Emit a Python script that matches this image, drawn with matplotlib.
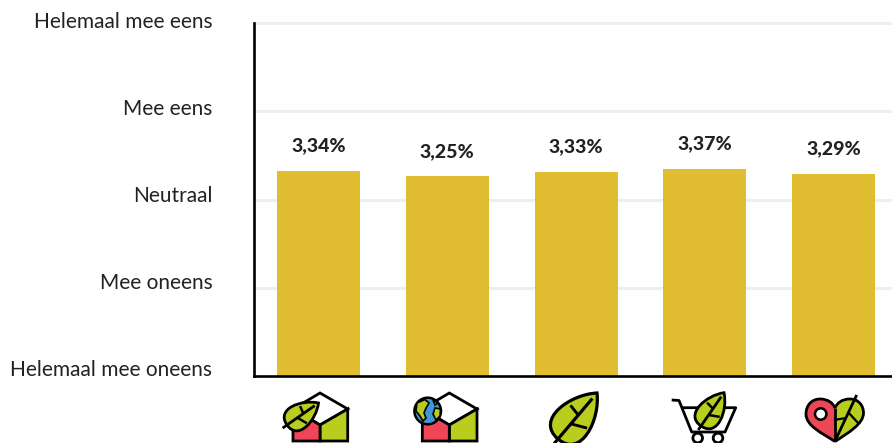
import numpy as np
import matplotlib
matplotlib.use('Agg')
import matplotlib.pyplot as plt
from matplotlib.patches import Polygon, Circle, PathPatch
from matplotlib.path import Path

# ── Data ───────────────────────────────────────────────────────────────
values = [3.34, 3.25, 3.33, 3.37, 3.29]
scale_labels = ['Helemaal mee eens', 'Mee eens', 'Neutraal', 'Mee oneens', 'Helemaal mee oneens']
label_y_px = [22, 109, 196, 283, 370]

GOLD = '#e1bd31'
LEAF = '#b8cd1e'
RED = '#ee4656'
BLUE = '#3f97d5'
INK = '#000000'

W, H = 892, 443
plt.rcParams['font.family'] = ['Lato', 'DejaVu Sans']

fig = plt.figure(figsize=(W / 100, H / 100), dpi=100)

# ── Bars ───────────────────────────────────────────────────────────────
ax = fig.add_axes([254 / W, 1 - 376 / H, (W - 254) / W, 353 / H])
x = np.arange(len(values))
ymax = 353 / 61.4
ax.bar(x, values, width=0.645, color=GOLD, zorder=3)
ax.set_xlim(-0.501, 4.454)
ax.set_ylim(0, ymax)
ax.set_xticks([])
ax.set_yticks([])
for g in np.linspace(0, ymax, 5)[1:]:
    ax.axhline(g, color='#eeeeee', lw=2.2, zorder=1, clip_on=False)
for s in ['top', 'right']:
    ax.spines[s].set_visible(False)
for s in ['left', 'bottom']:
    ax.spines[s].set_linewidth(1.9)
    ax.spines[s].set_color(INK)
    ax.spines[s].set_zorder(5)

for xi, v in zip(x, values):
    ax.annotate(f'{v:.2f}%'.replace('.', ','), (xi, v), xytext=(0, 18),
                textcoords='offset points', ha='center', va='center',
                fontsize=14, fontweight='black', color='#222222')

# ── Overlay in pixel coordinates for axis labels and icons ─────────────
px = fig.add_axes([0, 0, 1, 1], zorder=10)
px.set_xlim(0, W)
px.set_ylim(H, 0)
px.axis('off')
px.patch.set_alpha(0)

for lab, y in zip(scale_labels, label_y_px):
    px.text(212.5, y, lab, ha='right', va='center', fontsize=15, color='#222222')

LW = 2.0


def poly(pts, fc='none', lw=LW, z=2):
    px.add_patch(Polygon(pts, closed=True, fc=fc, ec=INK, lw=lw, joinstyle='miter', zorder=z))


def line(pts, lw=LW, z=2):
    a = np.array(pts)
    px.plot(a[:, 0], a[:, 1], color=INK, lw=lw, zorder=z, solid_capstyle='butt')


def leaf(base, tip, wid, stem=0.0, lw=LW, z=4):
    # leaf outline from two cubic curves, fatter toward the base
    b, t = np.array(base, float), np.array(tip, float)
    d = t - b
    n = np.array([-d[1], d[0]]) / np.hypot(*d) * wid
    c1 = b + n * 1.25
    c2 = b + d * 0.7 + n * 0.8
    c3 = b + d * 0.7 - n * 0.8
    c4 = b - n * 1.25
    verts = [b, c1, c2, t, c3, c4, b]
    codes = [Path.MOVETO] + [Path.CURVE4] * 6
    px.add_patch(PathPatch(Path(verts, codes), fc=LEAF, ec=INK, lw=lw, zorder=z))
    line([b - d * stem, b + d * 0.88], lw=lw, z=z + 1)
    m1 = b + d * 0.33
    m2 = b + d * 0.52
    line([m1, m1 + n * 0.62 + d * 0.12], lw=lw * 0.9, z=z + 1)
    line([m2, m2 - n * 0.5 + d * 0.04], lw=lw * 0.9, z=z + 1)


def house(dx):
    roof = [(320, 393), (347.7, 409), (320, 425), (293, 409)]
    poly([(p[0] + dx, p[1]) for p in roof], fc='white')
    poly([(320 + dx, 425), (347.7 + dx, 409), (347.7 + dx, 441), (320 + dx, 441)], fc=LEAF)
    poly([(293 + dx, 441), (293 + dx, 418), (310 + dx, 419), (320 + dx, 425), (320 + dx, 441)], fc=RED)


# house with leaf
house(0)
leaf((287, 425), (318.5, 403), 16, stem=0.14)

# house with globe
house(129.3)
px.add_patch(Circle((427.7, 411), 13.3, fc=BLUE, ec=INK, lw=1.8, zorder=4))
poly([(417, 403), (425, 399.5), (429, 403), (426, 408), (424, 413), (426, 418),
      (423, 421), (420, 416), (416, 411)], fc=LEAF, lw=1.2, z=5)
poly([(433, 400), (438, 403), (435, 405)], fc=LEAF, lw=1.2, z=5)
poly([(435, 408), (440.5, 409), (440, 416), (436, 420), (433, 414)], fc=LEAF, lw=1.2, z=5)

# big leaf
leaf((558, 439), (597, 393), 24.5, stem=0.1, lw=2.3)

# cart with leaf
line([(671.7, 400), (679, 400.5), (691.7, 432), (725, 432), (735.7, 407.7), (681.7, 407.7)])
for cx in (697.7, 718):
    px.add_patch(Circle((cx, 438), 4.8, fc='white', ec=INK, lw=LW, zorder=2))
leaf((701, 426), (724, 392.7), 16.5, stem=0.12)

# heart with pin and leaf
codes = [Path.MOVETO] + [Path.CURVE4] * 9
red_side = Path([(835, 441.5), (822, 433), (806, 426), (806, 414), (806, 405), (812, 399), (820, 399),
                 (828, 399), (833, 403), (835, 408)], codes)
grn_side = Path([(835, 441.5), (848, 433), (863.5, 424), (863.5, 413), (863.5, 405), (858, 399), (850, 399),
                 (842, 399), (837, 403), (835, 408)], codes)
px.add_patch(PathPatch(red_side, fc=RED, ec=INK, lw=LW, zorder=2))
px.add_patch(PathPatch(grn_side, fc=LEAF, ec=INK, lw=LW, zorder=2))
line([(835, 408), (835, 441)], z=3)
line([(835, 441), (856.7, 395)], z=3)
line([(834, 420), (846, 418)], lw=1.6, z=3)
line([(848, 412), (859, 424)], lw=1.6, z=3)
px.add_patch(Circle((820.7, 414), 5.7, fc='white', ec=INK, lw=1.8, zorder=3))

fig.savefig('out.png', dpi=100)
